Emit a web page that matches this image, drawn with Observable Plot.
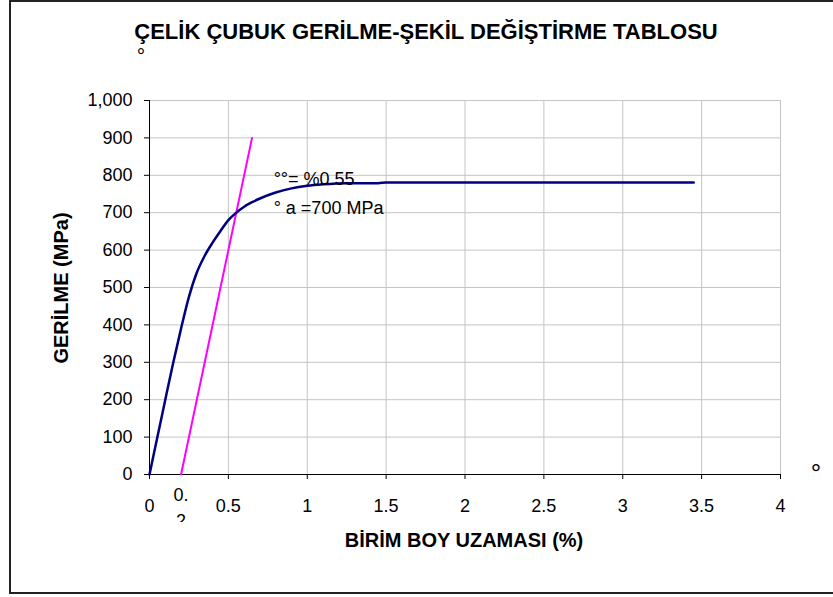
<!DOCTYPE html>
<html>
<head>
<meta charset="utf-8">
<script src="https://cdn.jsdelivr.net/npm/d3@7"></script>
<script src="https://cdn.jsdelivr.net/npm/@observablehq/plot@0.6"></script>
<style>
  html, body { margin: 0; padding: 0; background: white; }
  #chart { width: 833px; height: 597px; overflow: hidden; }
</style>
</head>
<body>
<div id="chart"></div>
<script>
// Stress–strain curve (strain in %, stress in MPa)
const strain = [0, 0.05, 0.10, 0.15, 0.20, 0.25, 0.30, 0.35, 0.40, 0.45, 0.50, 0.55, 0.60, 0.65, 0.70, 0.80, 0.90, 1.00, 1.10, 1.25, 1.45, 1.50, 2.0, 2.5, 3.0, 3.45];
const stress = [0, 100, 200, 298, 390, 475, 540, 585, 620, 651, 680, 700, 716, 728, 738, 754, 765, 772, 776, 779, 779, 781, 781, 781, 781, 781];

// 0.2% offset line
const offsetStrain = [0.2, 0.65];
const offsetStress = [0, 900];

// Axis ticks
const xTicks = [0, 0.5, 1, 1.5, 2, 2.5, 3, 3.5, 4];
const yTicks = [0, 100, 200, 300, 400, 500, 600, 700, 800, 900, 1000];
const extraTickX = [0.2];
const extraTickLabel = ["0.\n2"];

// Annotations
const annX = [0.787, 0.787];
const annY = [773, 696];
const annText = ["°°= %0.55", "° a =700 MPa"];

// Texts
const titleText = "ÇELİK ÇUBUK GERİLME-ŞEKİL DEĞİŞTİRME TABLOSU";
const xTitle = "BİRİM BOY UZAMASI (%)";
const yTitle = "GERİLME (MPa)";

const curve = strain.map((s, i) => ({strain: s, stress: stress[i]}));
const offset = offsetStrain.map((s, i) => ({strain: s, stress: offsetStress[i]}));
const ann = annX.map((x, i) => ({x, y: annY[i], text: annText[i]}));
const extra = extraTickX.map((x, i) => ({x, text: extraTickLabel[i]}));

const font = "'Liberation Sans', Arial, sans-serif";

const chart = Plot.plot({
  width: 833,
  height: 597,
  marginLeft: 149,
  marginRight: 53,
  marginTop: 100,
  marginBottom: 123,
  style: {fontFamily: font, fontSize: "18px", background: "white", color: "black"},
  x: {domain: [0, 4], label: null},
  y: {domain: [0, 1000], label: null},
  marks: [
    Plot.gridX(xTicks, {stroke: "#c4c4c4", strokeOpacity: 1, strokeWidth: 1}),
    Plot.gridY(yTicks, {stroke: "#c4c4c4", strokeOpacity: 1, strokeWidth: 1}),
    Plot.axisX({ticks: xTicks, tickFormat: d => String(d), tickSize: 5, tickPadding: 20, fontSize: 18, label: null}),
    Plot.axisY({ticks: yTicks, tickFormat: d3.format(","), tickSize: 5, tickPadding: 12, fontSize: 18, label: null}),
    Plot.text(extra, {x: "x", y: () => 0, text: "text", lineAnchor: "top", dy: 9, lineHeight: 1.4, fontSize: 18, fill: "black"}),
    Plot.ruleX([0], {stroke: "black"}),
    Plot.ruleY([0], {stroke: "black"}),
    Plot.line(offset, {x: "strain", y: "stress", stroke: "#ff00ff", strokeWidth: 2}),
    Plot.line(curve, {x: "strain", y: "stress", stroke: "#000080", strokeWidth: 2.5, curve: "monotone-x"}),
    Plot.text(ann, {x: "x", y: "y", text: "text", textAnchor: "start", lineAnchor: "bottom", fontSize: 18, fill: "black"})
  ]
});

const svg = d3.select(chart);
svg.append("rect")
  .attr("x", 10).attr("y", 1).attr("width", 840).attr("height", 592)
  .attr("fill", "none").attr("stroke", "#222").attr("stroke-width", 2);
svg.append("text")
  .attr("x", 426).attr("y", 39).attr("text-anchor", "middle")
  .attr("font-family", font).attr("font-weight", "bold").attr("font-size", 22)
  .text(titleText);
svg.append("text")
  .attr("x", 464).attr("y", 547).attr("text-anchor", "middle")
  .attr("font-family", font).attr("font-weight", "bold").attr("font-size", 20)
  .text(xTitle);
svg.append("text")
  .attr("transform", "translate(68,288) rotate(-90)").attr("text-anchor", "middle")
  .attr("font-family", font).attr("font-weight", "bold").attr("font-size", 20)
  .text(yTitle);
svg.append("text")
  .attr("x", 141).attr("y", 63).attr("text-anchor", "middle")
  .attr("font-family", font).attr("font-size", 21).text("°");
svg.append("text")
  .attr("x", 816).attr("y", 482).attr("text-anchor", "middle")
  .attr("font-family", font).attr("font-size", 26).text("°");

document.getElementById("chart").appendChild(chart);

// clip the broken "0.2" label at its bottom, as in the original
const extraText = svg.selectAll("text").filter(function () { return this.textContent === "0.2"; }).node();
if (extraText) {
  const parent = extraText.parentNode;
  const ctm = parent.getCTM();
  const offY = ctm ? ctm.f : 0;
  const offX = ctm ? ctm.e : 0;
  svg.insert("defs", ":first-child").append("clipPath").attr("id", "clip-extra")
    .attr("clipPathUnits", "userSpaceOnUse")
    .append("rect").attr("x", -offX).attr("y", -offY).attr("width", 833).attr("height", 522);
  d3.select(parent).attr("clip-path", "url(#clip-extra)");
}
</script>
</body>
</html>
